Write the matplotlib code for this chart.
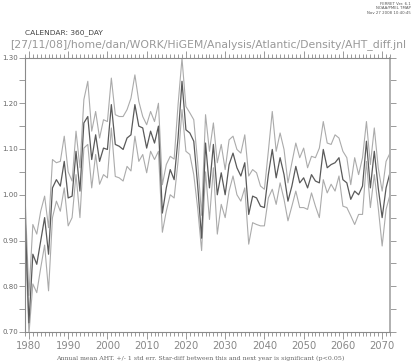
import matplotlib
matplotlib.use("Agg")
import matplotlib.pyplot as plt
import numpy as np
from matplotlib.ticker import MultipleLocator, FixedLocator

years = list(range(1979, 2073))

mean_aht = [0.96, 0.72, 0.870, 0.848, 0.899, 0.950, 0.870, 1.015, 1.033, 1.019,
            1.073, 0.993, 0.997, 1.095, 1.008, 1.157, 1.171, 1.077, 1.131, 1.073,
            1.102, 1.099, 1.197, 1.110, 1.106, 1.099, 1.124, 1.131, 1.197, 1.150,
            1.146, 1.102, 1.139, 1.113, 1.150, 0.960, 1.015, 1.055, 1.033, 1.124,
            1.248, 1.142, 1.135, 1.117, 1.020, 0.905, 1.113, 1.015, 1.110, 1.000,
            1.048, 1.000, 1.066, 1.091, 1.059, 1.041, 1.070, 0.957, 0.997, 0.993,
            0.975, 0.972, 1.044, 1.099, 1.037, 1.081, 1.044, 0.986, 1.019, 1.062,
            1.026, 1.037, 1.015, 1.044, 1.030, 1.026, 1.099, 1.059, 1.066, 1.070,
            1.081, 1.033, 1.026, 0.990, 1.008, 1.000, 1.019, 1.117, 1.015, 1.095,
            1.015, 0.950, 1.015, 1.048]

upper_aht = [1.00, 0.78, 0.935, 0.914, 0.964, 0.997, 0.928, 1.077, 1.070, 1.073,
             1.128, 1.050, 1.030, 1.139, 1.059, 1.208, 1.248, 1.139, 1.182, 1.124,
             1.164, 1.160, 1.255, 1.175, 1.171, 1.171, 1.186, 1.211, 1.262, 1.204,
             1.171, 1.153, 1.182, 1.160, 1.200, 1.022, 1.066, 1.084, 1.078, 1.197,
             1.298, 1.193, 1.179, 1.164, 1.070, 0.955, 1.175, 1.095, 1.157, 1.070,
             1.110, 1.055, 1.120, 1.128, 1.099, 1.091, 1.131, 1.041, 1.055, 1.048,
             1.019, 1.012, 1.095, 1.182, 1.095, 1.135, 1.099, 1.026, 1.070, 1.113,
             1.081, 1.102, 1.059, 1.084, 1.081, 1.102, 1.160, 1.113, 1.110, 1.131,
             1.124, 1.095, 1.081, 1.022, 1.081, 1.044, 1.081, 1.160, 1.066, 1.146,
             1.059, 1.008, 1.073, 1.091]

lower_aht = [0.93, 0.695, 0.805, 0.786, 0.840, 0.890, 0.790, 0.950, 0.986, 0.964,
             1.015, 0.932, 0.950, 1.044, 0.950, 1.102, 1.110, 1.015, 1.088, 1.023,
             1.044, 1.037, 1.146, 1.040, 1.037, 1.030, 1.062, 1.052, 1.128, 1.073,
             1.088, 1.048, 1.095, 1.077, 1.095, 0.918, 0.964, 1.000, 0.993, 1.073,
             1.186, 1.095, 1.088, 1.044, 0.970, 0.878, 1.050, 0.946, 1.059, 0.914,
             0.979, 0.950, 1.008, 1.041, 1.000, 0.986, 1.015, 0.892, 0.939, 0.935,
             0.932, 0.932, 0.993, 1.012, 0.979, 1.026, 0.990, 0.943, 0.975, 1.008,
             0.972, 0.972, 0.968, 1.004, 0.975, 0.950, 1.033, 1.004, 1.023, 1.008,
             1.041, 0.975, 0.972, 0.954, 0.935, 0.957, 0.957, 1.073, 0.972, 1.044,
             0.972, 0.888, 0.968, 1.000]

ytick_vals = [0.70, 0.80, 0.90, 1.00, 1.10, 1.20, 1.30]
ytick_labels = ["0.70", "0.80", "0.90", "1.00", "1.10", "1.20", "1.30"]
xtick_vals = [1980, 1990, 2000, 2010, 2020, 2030, 2040, 2050, 2060, 2070]

fig = plt.figure(figsize=(4.14, 3.63), dpi=100)
ax = fig.add_axes([25/414, 1-332/363, 365/414, (332-57.5)/363])

light = "#ababab"
dark = "#5a5a5a"
ax.plot(years, upper_aht, color=light, lw=0.8)
ax.plot(years, lower_aht, color=light, lw=0.8)
ax.plot(years, mean_aht, color=dark, lw=0.9)

ax.set_xlim(1979, 2072)
ax.set_ylim(0.70, 1.30)

spine_c = "#8a8a8a"
for s in ax.spines.values():
    s.set_color(spine_c)
    s.set_linewidth(0.8)
ax.spines["right"].set_color("#b0b0b0")
ax.spines["right"].set_linewidth(1.4)

ax.xaxis.set_major_locator(FixedLocator(xtick_vals))
ax.xaxis.set_minor_locator(MultipleLocator(1))
ax.yaxis.set_major_locator(FixedLocator(ytick_vals))
ax.yaxis.set_minor_locator(MultipleLocator(0.05))
ax.set_yticklabels(ytick_labels)

ax.tick_params(axis="x", which="both", direction="out", top=True, bottom=True,
               color=spine_c, width=0.6)
ax.tick_params(axis="x", which="major", length=5, labelsize=7.2,
               labelcolor="#888888", pad=1.5)
ax.tick_params(axis="x", which="minor", length=3)
ax.tick_params(axis="y", which="both", direction="out", left=True, right=True,
               color=spine_c, width=0.6)
ax.tick_params(axis="y", which="major", length=4, labelsize=5,
               labelcolor="#666666", pad=1)
ax.tick_params(axis="y", which="minor", length=4)

fig.text(25/414, 1-33/363, "CALENDAR: 360_DAY", fontsize=5.4, color="#444444",
         ha="left", va="center")
fig.text(208/414, 1-45/363,
         "[27/11/08]/home/dan/WORK/HiGEM/Analysis/Atlantic/Density/AHT_diff.jnl",
         fontsize=7.8, color="#999999", ha="center", va="center")
fig.text(411/414, 1-2/363, "FERRET Ver. 6.1\nNOAA/PMEL TMAP\nNov 27 2008 10:40:45",
         fontsize=2.8, color="#555555", ha="right", va="top", linespacing=1.1)
fig.text(200/414, 1-358/363,
         "Annual mean AHT. +/- 1 std err. Star-diff between this and next year is significant (p<0.05)",
         fontsize=4.5, color="#666666", ha="center", va="center",
         family="DejaVu Serif")

fig.savefig("out.png", dpi=100)
